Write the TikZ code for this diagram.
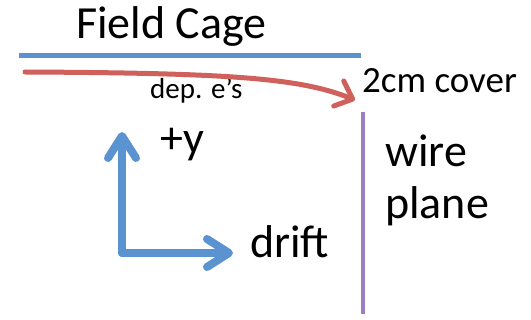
\documentclass[tikz,border=0pt]{standalone}
\usepackage{fontspec}
\setmainfont{Carlito}
\usetikzlibrary{arrows.meta}
\definecolor{cageblue}{RGB}{91,147,208}
\definecolor{elecred}{RGB}{208,96,91}
\definecolor{wirepurple}{RGB}{154,128,192}
\tikzset{
  lbl/.style={anchor=base west, inner sep=0pt, font=\fontsize{46}{55}\selectfont},
  smalllbl/.style={anchor=base west, inner sep=0pt, font=\fontsize{29}{34}\selectfont},
  axis/.style={cageblue, line width=8pt, line cap=round,
    -{Straight Barb[round, length=22pt, width=28pt]}}
}
\begin{document}
\begin{tikzpicture}[x=1pt, y=-1pt]
      \useasboundingbox (0,0) rectangle (531,320);
      % field cage and wire plane
      \coordinate (cageL) at (19,56);
      \coordinate (cageR) at (361,56);
      \coordinate (wireT) at (363,112);
      \coordinate (wireB) at (363,314);
      \draw[cageblue, line width=5pt] (cageL) -- (cageR);
      \draw[wirepurple, line width=4.5pt] (wireT) -- (wireB);
      \draw
        (76,39) node[lbl] (cage){Field Cage}
        (150,99) node[smalllbl] (deps){dep. e’s}
        (362,93) node[lbl, font=\fontsize{37}{44}\selectfont] (cover){2cm cover}
        (385,167) node[lbl] (wire){wire}
        (385,219) node[lbl] (plane){plane}
        (160,154) node[lbl] (plusy){+y}
        (250,258) node[lbl] (drift){drift};
      % drifting electrons
      \coordinate (eStart) at (25,72);
      \coordinate (eEnd) at (355,100);
      \draw[elecred, line width=5pt, line cap=round,
        -{Straight Barb[round, length=15pt, width=27pt]}]
        (eStart) .. controls (230,73) and (300,78) .. (eEnd);
      % axes
      \coordinate (origin) at (122,253);
      \coordinate (yTip) at (122,132);
      \coordinate (xTip) at (233,253);
      \draw[axis] (origin) -- (yTip);
      \draw[axis] (origin) -- (xTip);
    \end{tikzpicture}
\end{document}
